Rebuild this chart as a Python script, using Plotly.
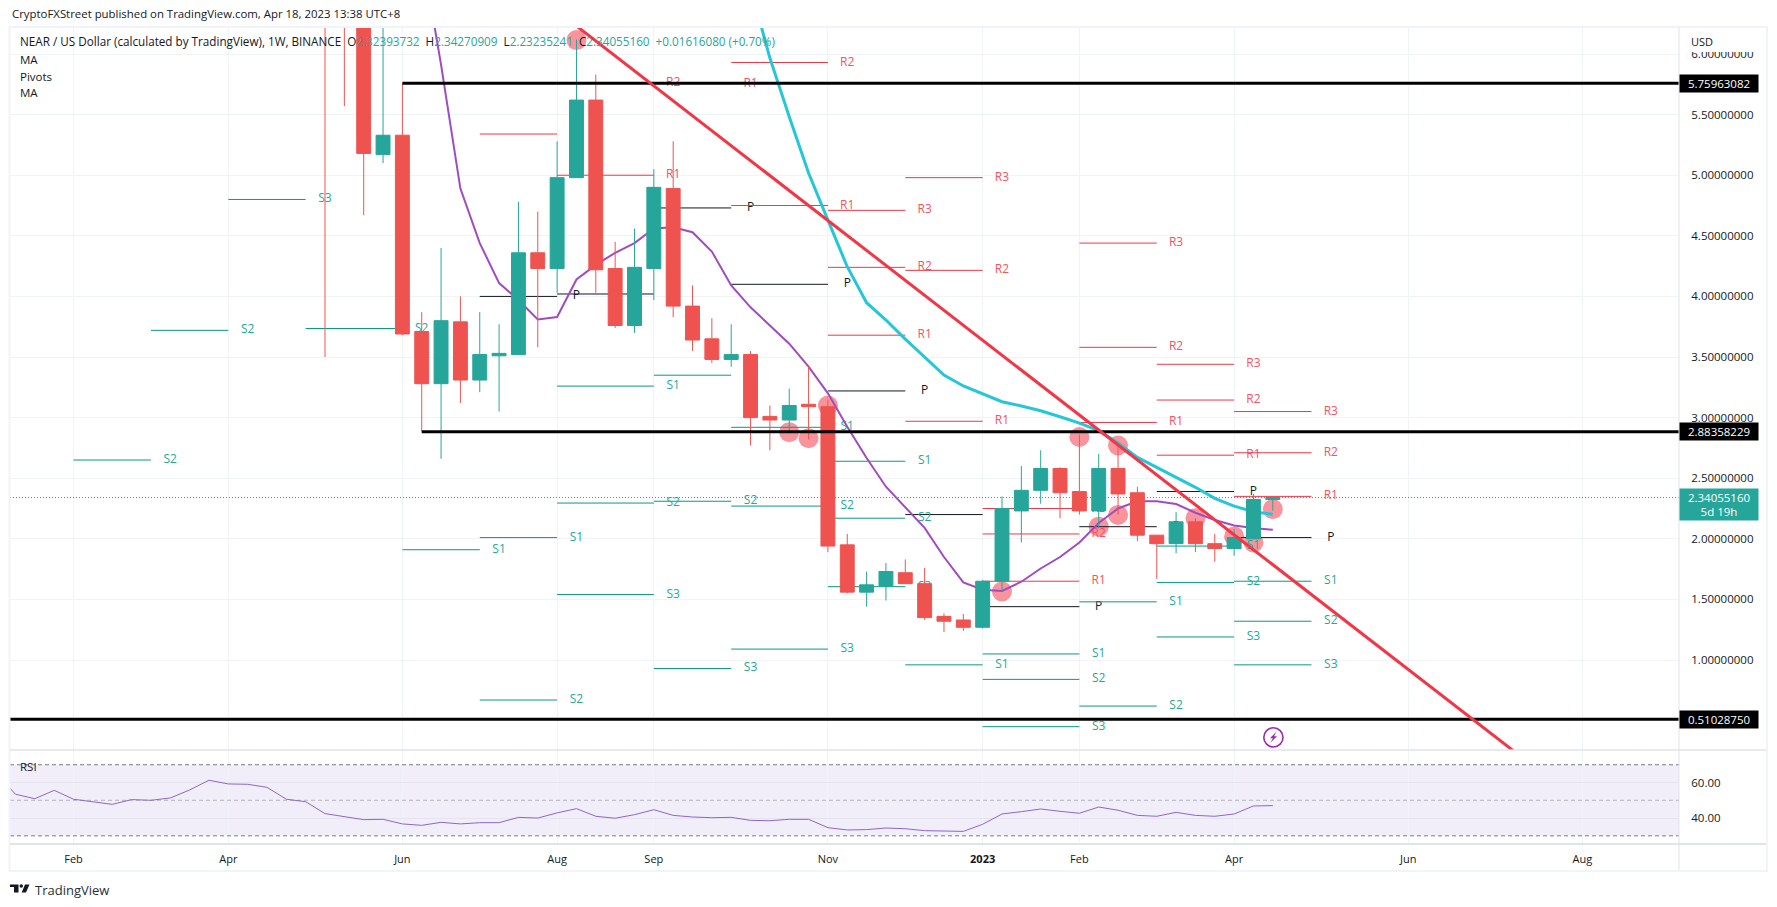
import pandas as pd
import plotly.graph_objects as go

W, H = 1777, 907
FONT = 'Open Sans'
UP, DOWN = '#26a69a', '#ef5350'
RED, GREEN, DARK = '#f23645', '#089981', '#131722'
GRID = '#f0f3fa'

# Weekly candles, NEAR/USD (bars above the pane are clipped)
candle_dates = pd.date_range('2022-05-09', '2023-04-17', freq='7D')
opens = [8.00, 7.50, 7.00, 5.17, 5.33, 3.71, 3.28, 3.79, 3.31, 3.51, 3.52, 4.36, 4.23, 4.98, 5.62, 4.23, 3.76,
         4.23, 4.89, 3.92, 3.65, 3.48, 3.52, 3.01, 2.98, 3.11, 3.09, 1.95, 1.56, 1.61, 1.72, 1.63, 1.36, 1.33,
         1.27, 1.65, 2.23, 2.40, 2.58, 2.39, 2.23, 2.58, 2.38, 2.03, 1.96, 2.14, 1.96, 1.92, 2.00, 2.32393732]
highs = [9.00, 8.50, 7.50, 6.50, 5.76, 3.87, 4.40, 4.00, 3.87, 3.77, 4.78, 4.70, 5.28, 6.12, 5.83, 4.45, 4.56,
         5.05, 5.28, 4.09, 3.82, 3.77, 3.55, 3.10, 3.24, 3.43, 3.15, 2.04, 1.73, 1.80, 1.83, 1.76, 1.385, 1.38,
         1.66, 2.35, 2.60, 2.73, 2.59, 2.86, 2.70, 2.78, 2.43, 2.03, 2.22, 2.17, 2.04, 2.08, 2.37, 2.34270909]
lows = [3.50, 5.57, 4.67, 5.10, 3.68, 2.885, 2.66, 3.12, 3.21, 3.05, 3.52, 3.58, 4.03, 4.98, 4.03, 3.74, 3.70,
        3.97, 3.83, 3.55, 3.45, 3.42, 2.77, 2.73, 2.885, 2.82, 1.89, 1.55, 1.44, 1.49, 1.63, 1.33, 1.23, 1.24,
        1.26, 1.57, 1.97, 2.29, 2.17, 2.20, 2.09, 2.20, 1.98, 1.67, 1.88, 1.89, 1.81, 1.86, 2.00, 2.23235241]
closes = [7.00, 6.50, 5.18, 5.33, 3.69, 3.28, 3.80, 3.31, 3.52, 3.53, 4.36, 4.23, 4.98, 5.62, 4.22, 3.76, 4.24,
          4.90, 3.92, 3.64, 3.48, 3.52, 3.00, 2.98, 3.10, 3.09, 1.94, 1.56, 1.62, 1.73, 1.63, 1.35, 1.32, 1.27,
          1.65, 2.25, 2.40, 2.58, 2.38, 2.23, 2.58, 2.37, 2.03, 1.96, 2.14, 1.96, 1.92, 2.01, 2.32439080, 2.34055160]

# Moving averages
ma_fast_dates = pd.date_range('2022-06-13', '2023-04-17', freq='7D')
ma_fast = [6.85, 5.91, 4.89, 4.44, 4.11, 3.97, 3.81, 3.83, 4.14, 4.26, 4.36, 4.44, 4.56, 4.57, 4.53, 4.37, 4.09,
           3.91, 3.76, 3.61, 3.42, 3.20, 2.925, 2.667, 2.43, 2.26, 2.09, 1.85, 1.64, 1.58, 1.57, 1.646, 1.755, 1.85,
           1.97, 2.13, 2.25, 2.31, 2.31, 2.287, 2.215, 2.155, 2.11, 2.09, 2.075]
ma_slow_dates = pd.date_range('2022-10-10', '2023-04-17', freq='7D')
ma_slow = [6.55, 5.967, 5.483, 5.018, 4.63, 4.245, 3.948, 3.805, 3.648, 3.502, 3.351, 3.261, 3.195, 3.131, 3.096,
           3.057, 3.007, 2.955, 2.892, 2.79, 2.672, 2.59, 2.512, 2.425, 2.334, 2.27, 2.224, 2.202]

# Monthly pivots, one value per period between the boundaries
pivot_bounds = ['2022-02-07', '2022-03-07', '2022-04-04', '2022-05-02', '2022-06-06', '2022-07-04', '2022-08-01',
                '2022-09-05', '2022-10-03', '2022-11-07', '2022-12-05', '2023-01-02', '2023-02-06', '2023-03-06',
                '2023-04-03', '2023-05-01']
pivot_p = [None, None, None, None, None, 4.00, 4.02, 4.73, 4.10, 3.22, 2.20, 1.44, 2.10, 2.39, 2.01]
pivot_r1 = [None, None, None, None, None, 5.34, 5.00, 5.756, 4.75, 3.68, 2.97, 1.65, 2.96, 2.69, 2.35]
pivot_r2 = [None, None, None, None, None, None, 5.757, None, 5.93, 4.24, 4.215, 2.04, 3.58, 3.145, 2.71]
pivot_r3 = [None, None, None, None, None, None, None, None, None, 4.71, 4.98, 2.25, 4.44, 3.44, 3.05]
pivot_s1 = [None, None, None, None, 1.91, 2.01, 3.26, 3.35, 2.92, 2.64, 0.96, 1.05, 1.48, 1.94, 1.65]
pivot_s2 = [2.65, 3.72, None, 3.735, None, 0.67, 2.295, 2.31, 2.27, 2.17, None, 0.84, 0.62, 1.64, 1.32]
pivot_s3 = [None, None, 4.80, None, None, None, 1.54, 0.93, 1.09, 1.605, None, 0.45, None, 1.19, 0.96]

# Hand drawn marks
circle_dates = ['2022-08-08', '2022-10-24', '2022-10-31', '2022-11-07', '2023-01-09', '2023-02-06', '2023-02-13',
                '2023-02-20', '2023-02-20', '2023-03-20', '2023-04-03', '2023-04-10', '2023-04-17']
circle_prices = [6.115, 2.88, 2.83, 3.10, 1.565, 2.84, 2.10, 2.77, 2.197, 2.17, 2.02, 1.97, 2.245]
trend_dates = ['2022-08-01', '2023-07-24']
trend_prices = [6.355, 0.058]
level_prices = [5.75963082, 2.88358229, 0.51028750]
level_starts = ['2022-06-06', '2022-06-13', '2022-01-15']
last_close = 2.34055160

# RSI
rsi_dates = pd.date_range('2022-01-10', '2023-04-17', freq='7D')
rsi = [65.0, 53.4, 50.9, 55.6, 50.6, 49.1, 47.7, 50.4, 50.0, 51.3, 55.8, 61.3, 59.2, 59.0, 57.3, 50.6, 49.2, 42.5,
       40.8, 39.1, 39.3, 36.7, 35.9, 37.6, 36.7, 37.4, 37.4, 40.4, 40.0, 42.9, 45.3, 41.0, 39.9, 41.9, 44.7, 41.5,
       40.6, 40.2, 40.4, 38.7, 38.5, 39.3, 39.3, 34.6, 33.3, 33.5, 34.4, 34.0, 32.9, 32.7, 32.5, 36.5, 42.3, 43.6,
       45.1, 43.8, 42.7, 46.2, 44.4, 41.5, 41.0, 43.2, 41.5, 41.0, 42.3, 46.8, 47.0]

# Axes
x_range = ['2022-01-15', '2023-09-11']
price_range = [0.2574, 6.223]
rsi_range = [25.4, 78.3]
price_ticks = [1.0, 1.5, 2.0, 2.5, 3.0, 3.5, 4.0, 4.5, 5.0, 5.5, 6.0]
time_ticks = ['2022-02-07', '2022-04-04', '2022-06-06', '2022-08-01', '2022-09-05', '2022-11-07', '2023-01-02',
              '2023-02-06', '2023-04-03', '2023-06-05', '2023-08-07']
time_labels = ['Feb', 'Apr', 'Jun', 'Aug', 'Sep', 'Nov', '<b>2023</b>', 'Feb', 'Apr', 'Jun', 'Aug']


def px(x):
    return x / W


def py(y):
    return 1 - y / H


def pivot_traces(levels, color, label, label_color):
    xs, ys, tx, ty = [], [], [], []
    for i, level in enumerate(levels):
        if level is None:
            continue
        xs += [pivot_bounds[i], pivot_bounds[i + 1], None]
        ys += [level, level, None]
        tx.append(pd.Timestamp(pivot_bounds[i + 1]) + pd.Timedelta(days=7))
        ty.append(level)
    return [
        go.Scatter(x=xs, y=ys, mode='lines', line=dict(color=color, width=1), hoverinfo='skip'),
        go.Scatter(x=tx, y=ty, mode='text', text=[label] * len(tx), textposition='middle center',
                   textfont=dict(family=FONT, size=12, color=label_color), hoverinfo='skip'),
    ]


fig = go.Figure()

# Base layer: circles, pivots, averages. Everything here sits under the candles.
fig.add_trace(go.Scatter(x=circle_dates, y=circle_prices, mode='markers', hoverinfo='skip',
                         marker=dict(size=20, color='rgba(247,82,95,0.62)', line=dict(width=0))))
for levels, color, label, label_color in [
    (pivot_p, DARK, 'P', DARK),
    (pivot_r1, RED, 'R1', '#f7525f'), (pivot_r2, RED, 'R2', '#f7525f'), (pivot_r3, RED, 'R3', '#f7525f'),
    (pivot_s1, GREEN, 'S1', '#22ab94'), (pivot_s2, GREEN, 'S2', '#22ab94'), (pivot_s3, GREEN, 'S3', '#22ab94'),
]:
    fig.add_traces(pivot_traces(levels, color, label, label_color))
fig.add_trace(go.Scatter(x=x_range, y=[last_close, last_close], mode='lines', hoverinfo='skip',
                         line=dict(color=UP, width=1, dash='1px,2px')))
fig.add_trace(go.Scatter(x=ma_fast_dates, y=ma_fast, mode='lines', line=dict(color='#a04bc0', width=2),
                         hoverinfo='skip'))
fig.add_trace(go.Scatter(x=ma_slow_dates, y=ma_slow, mode='lines', line=dict(color='#26c6da', width=3),
                         hoverinfo='skip'))

# Candles on an overlay so they cover the lines
fig.add_trace(go.Candlestick(
    x=candle_dates, open=opens, high=highs, low=lows, close=closes, xaxis='x3', yaxis='y3', whiskerwidth=0,
    increasing=dict(line=dict(color=UP, width=1), fillcolor=UP),
    decreasing=dict(line=dict(color=DOWN, width=1), fillcolor=DOWN),
))

# Drawings above the candles
for price, start in zip(level_prices, level_starts):
    fig.add_trace(go.Scatter(x=[start, x_range[1]], y=[price, price], mode='lines', xaxis='x4', yaxis='y4',
                             line=dict(color='#000000', width=3), hoverinfo='skip'))
fig.add_trace(go.Scatter(x=trend_dates, y=trend_prices, mode='lines', xaxis='x4', yaxis='y4',
                         line=dict(color=RED, width=3), hoverinfo='skip'))

# RSI pane
fig.add_trace(go.Scatter(x=rsi_dates, y=rsi, mode='lines', xaxis='x2', yaxis='y2',
                         line=dict(color='#8a68c9', width=1), hoverinfo='skip'))

shapes = [
    dict(type='rect', xref='x2 domain', yref='y2', x0=0, x1=1, y0=30, y1=70, layer='below',
         fillcolor='rgba(126,87,194,0.1)', line=dict(width=0)),
]
for level, color in [(70, '#787b86'), (50, 'rgba(120,123,134,0.5)'), (30, '#787b86')]:
    shapes.append(dict(type='line', xref='x2 domain', yref='y2', x0=0, x1=1, y0=level, y1=level,
                       line=dict(color=color, width=1, dash='4px,3px')))
# pane frame
shapes += [
    dict(type='rect', xref='paper', yref='paper', x0=px(9.5), x1=px(1767), y0=py(27), y1=py(871),
         line=dict(color=GRID, width=2)),
    dict(type='line', xref='paper', yref='paper', x0=px(10), x1=px(1766), y0=py(750), y1=py(750),
         line=dict(color='#e0e3eb', width=1.5)),
    dict(type='line', xref='paper', yref='paper', x0=px(10), x1=px(1766), y0=py(844), y1=py(844),
         line=dict(color='#e0e3eb', width=2)),
    dict(type='line', xref='paper', yref='paper', x0=px(1679), x1=px(1679), y0=py(27), y1=py(870),
         line=dict(color='#e0e3eb', width=1)),
    # hides the top of the 6.0 label under the currency name
    dict(type='rect', xref='paper', yref='paper', x0=px(1680), x1=px(1766), y0=py(28), y1=py(52),
         fillcolor='#ffffff', line=dict(width=0), layer='above'),
]


def path_shape(points, **kw):
    d = 'M ' + ' L '.join(f'{px(x):.5f},{py(y):.5f}' for x, y in points) + ' Z'
    return dict(type='path', xref='paper', yref='paper', path=d, line=dict(width=0), **kw)


# TradingView logo and the lightning badge
shapes += [
    path_shape([(10, 884.5), (18.5, 884.5), (18.5, 892.5), (14, 892.5), (14, 887), (10, 887)], fillcolor='#131722'),
    path_shape([(25, 884.5), (29.5, 884.5), (26, 892.5), (21.7, 892.5)], fillcolor='#131722'),
    dict(type='circle', xref='paper', yref='paper', x0=px(19.5), x1=px(23), y0=py(884.3), y1=py(887.8),
         fillcolor='#131722', line=dict(width=0)),
    dict(type='circle', xref='paper', yref='paper', x0=px(1263.8), x1=px(1283), y0=py(727.8), y1=py(747),
         line=dict(color='#9c27b0', width=1.6)),
    path_shape([(1276.5, 731.5), (1270, 738.3), (1273, 738.3), (1270.2, 743), (1277, 736.3), (1274, 736.3)],
               fillcolor='#9c27b0'),
]

ohlc_num = f'<span style="color:{UP}">'
legend_line = ('NEAR / US Dollar (calculated by TradingView), 1W, BINANCE&nbsp;&nbsp;'
               f'O{ohlc_num}2.32393732</span>&nbsp;&nbsp;H{ohlc_num}2.34270909</span>&nbsp;&nbsp;'
               f'L{ohlc_num}2.23235241</span>&nbsp;&nbsp;C{ohlc_num}2.34055160</span>&nbsp;&nbsp;'
               f'{ohlc_num}+0.01616080 (+0.70%)</span>')


def note(text, x, y, size=11.5, color=DARK):
    return dict(text=text, xref='paper', yref='paper', x=px(x), y=py(y), xanchor='left', yanchor='middle',
                showarrow=False, font=dict(family=FONT, size=size, color=color), align='left')


def tag(text, price, color, height=17, yshift=0):
    return dict(text=text, xref='paper', yref='y', x=px(1679), y=price, xanchor='left', yanchor='middle',
                showarrow=False, font=dict(family=FONT, size=11.5, color='#ffffff'), align='center',
                bgcolor=color, width=78, height=height, borderpad=0, yshift=yshift)


annotations = [
    note('CryptoFXStreet published on TradingView.com, Apr 18, 2023 13:38 UTC+8', 10, 14, size=11.4),
    note(legend_line, 18, 41, size=11.7),
    note('MA', 18, 59),
    note('Pivots', 18, 76),
    note('MA', 18, 93),
    note('RSI', 18, 766),
    note('USD', 1689, 41, size=11),
    note('TradingView', 33, 890, size=13, color='#2a2e39'),
    tag('5.75963082', level_prices[0], '#000000'),
    tag('2.88358229', level_prices[1], '#000000'),
    tag('0.51028750', level_prices[2], '#000000'),
    tag('2.34055160<br>5d 19h', last_close, UP, height=31, yshift=-7),
]

grid_x = dict(range=x_range, type='date', tickmode='array', tickvals=time_ticks, showgrid=True, gridcolor=GRID,
              gridwidth=1, zeroline=False, showline=False)
x_domain = [px(10), px(1679)]
main_domain = [py(750), py(27)]
hidden = dict(visible=False, showgrid=False, zeroline=False)

fig.update_layout(
    width=W, height=H, margin=dict(l=0, r=0, t=0, b=0, pad=0),
    paper_bgcolor='#ffffff', plot_bgcolor='#ffffff', showlegend=False, hovermode=False,
    boxgap=0.28, boxgroupgap=0, shapes=shapes, annotations=annotations,
    xaxis=dict(grid_x, domain=x_domain, anchor='y', showticklabels=False, ticks=''),
    yaxis=dict(domain=main_domain, anchor='x', side='right', range=price_range, tickmode='array',
               tickvals=price_ticks, tickformat='.8f', showgrid=True, gridcolor=GRID, zeroline=False,
               ticks='outside', ticklen=9, tickcolor='rgba(0,0,0,0)',
               tickfont=dict(family=FONT, size=11.5, color=DARK)),
    xaxis2=dict(grid_x, domain=x_domain, anchor='y2', ticktext=time_labels, ticks='outside', ticklen=5,
                tickcolor='rgba(0,0,0,0)', tickfont=dict(family=FONT, size=11, color=DARK)),
    yaxis2=dict(domain=[py(844), py(750)], anchor='x2', side='right', range=rsi_range, tickmode='array',
                tickvals=[40, 60], ticktext=['40.00', '60.00'], showgrid=True, gridcolor='#e6e3ef', zeroline=False,
                ticks='outside', ticklen=9, tickcolor='rgba(0,0,0,0)',
                tickfont=dict(family=FONT, size=11.5, color=DARK)),
    xaxis3=dict(hidden, type='date', range=x_range, overlaying='x', anchor='y3', rangeslider=dict(visible=False)),
    yaxis3=dict(hidden, range=price_range, overlaying='y', anchor='x3', side='right'),
    xaxis4=dict(hidden, type='date', range=x_range, overlaying='x', anchor='y4'),
    yaxis4=dict(hidden, range=price_range, overlaying='y', anchor='x4', side='right'),
)

# the default page body has an 8px margin, drop it so the figure fills the window
fig.write_html('out.html', config={'displayModeBar': False}, post_script="document.body.style.margin='0';")
